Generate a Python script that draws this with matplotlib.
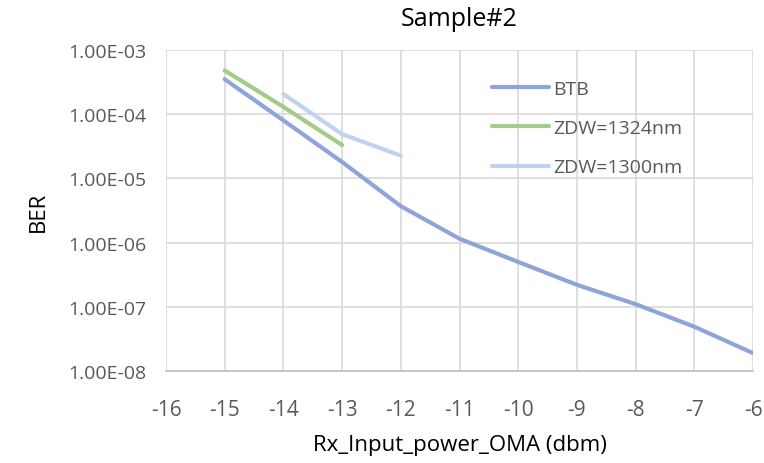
import matplotlib.pyplot as plt
from matplotlib.ticker import FixedLocator, FuncFormatter

plt.rcParams['font.family'] = ['Open Sans', 'DejaVu Sans']
plt.rcParams['axes.unicode_minus'] = False

# data
x_btb = [-15, -14, -13, -12, -11, -10, -9, -8, -7, -6]
ber_btb = [3.5e-4, 8.0e-5, 1.8e-5, 3.7e-6, 1.15e-6, 5.0e-7, 2.2e-7, 1.1e-7, 4.9e-8, 1.9e-8]
x_1324 = [-15, -14, -13]
ber_1324 = [4.8e-4, 1.3e-4, 3.3e-5]
x_1300 = [-14, -13, -12]
ber_1300 = [2.06e-4, 4.9e-5, 2.26e-5]

grey = '#595959'
fig = plt.figure(figsize=(7.64, 4.64), dpi=100)
ax = fig.add_axes([166 / 764, 1 - 372 / 464, (753 - 166) / 764, (372 - 51) / 464])

ax.plot(x_btb, ber_btb, color='#8fa5d9', lw=3, label='BTB', solid_capstyle='round')
ax.plot(x_1324, ber_1324, color='#a3cb8a', lw=3, label='ZDW=1324nm', solid_capstyle='round')
ax.plot(x_1300, ber_1300, color='#bfd3ec', lw=3, label='ZDW=1300nm', solid_capstyle='round')

ax.set_yscale('log')
ax.set_ylim(1e-8, 1e-3)
ax.set_xlim(-16, -6)
ax.set_xticks(range(-16, -5))
ax.yaxis.set_major_locator(FixedLocator([1e-8, 1e-7, 1e-6, 1e-5, 1e-4, 1e-3]))
ax.yaxis.set_minor_locator(FixedLocator([]))
ax.yaxis.set_major_formatter(FuncFormatter(lambda v, p: '%.2E' % v))
ax.grid(True, color='#d9d9d9', lw=1.2)
ax.set_axisbelow(True)
for s in ['top', 'right', 'left']:
    ax.spines[s].set_visible(False)
ax.spines['bottom'].set_color('#bfbfbf')
ax.spines['bottom'].set_linewidth(1.2)
ax.tick_params(length=0, colors=grey)
ax.tick_params(axis='y', pad=14, labelsize=14)
ax.tick_params(axis='x', pad=20, labelsize=15)

ax.set_title('Sample#2', fontsize=18, color='black', pad=18)
ax.set_xlabel('Rx_Input_power_OMA (dbm)', fontsize=16, color='black', labelpad=10)
ax.set_ylabel('BER', fontsize=16, color='black', labelpad=14)

leg = ax.legend(loc='upper left', bbox_to_anchor=(0.526, 0.962), frameon=False,
                fontsize=14, labelspacing=1.1, handlelength=2.9, handletextpad=0.25)
for t in leg.get_texts():
    t.set_color(grey)

fig.savefig('out.png', dpi=100)
